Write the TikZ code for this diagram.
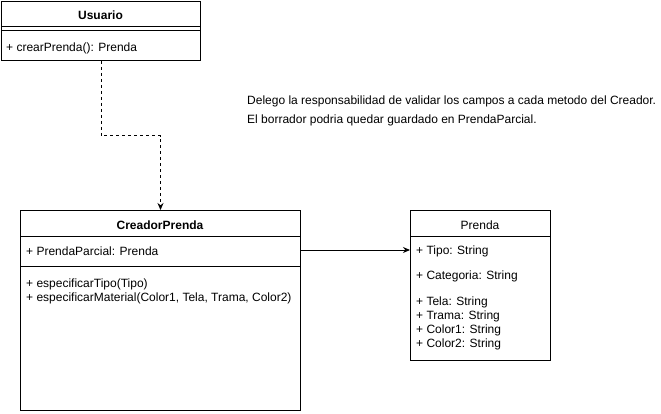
\documentclass[tikz,border=0pt]{standalone}
\usepackage{fontspec}
\setmainfont{Liberation Sans}
\usetikzlibrary{arrows.meta}
\begin{document}
\begin{tikzpicture}[
 x=1pt,y=-1pt,
 line/.style={line width=1pt},
 classbox/.style={draw,line width=1pt,anchor=north west,inner sep=0pt},
 member/.style={anchor=west,inner sep=0pt},
 title/.style={inner sep=0pt,font=\fontsize{12}{14}\selectfont\bfseries},
 every node/.style={font=\fontsize{12}{14}\selectfont}]
 \useasboundingbox (0,0) rectangle (661,414);
 % Usuario class, empty attribute part.
 \node[classbox,minimum width=199,minimum height=59] (usr) at (1,1) {};
 \node[title] (usrname) at (100.5,15) {Usuario};
 \draw[line] (1,27)--(200,27);
 \draw[line] (1,31)--(200,31);
 \node[member] (crear) at (6,48) {+ crearPrenda(): Prenda};
 % CreadorPrenda class.
 \node[classbox,minimum width=280,minimum height=200] (creador) at (20,210) {};
 \node[title] (creadorname) at (160,225) {CreadorPrenda};
 \draw[line] (20,236)--(300,236);
 \draw[line] (20,266)--(300,266);
 \node[member] (parcial) at (26,251) {+ PrendaParcial: Prenda};
 \node[member] (tipo) at (26,284) {+ especificarTipo(Tipo)};
 \node[member] (material) at (26,298) {+ especificarMaterial(Color1, Tela, Trama, Color2)};
 % Prenda class, attributes only.
 \node[classbox,minimum width=140,minimum height=150] (prenda) at (410,210) {};
 \node[inner sep=0pt] (prendaname) at (480,225) {Prenda};
 \draw[line] (410,236)--(550,236);
 \foreach \t/\y [count=\i] in {Tipo/251,Categoria/276,Tela/302,Trama/316,Color1/330,Color2/344}{
  \node[member] (attr\i) at (416,\y) {+ \t: String};
 }
 % Note.
 \node[member] (nota1) at (247,101) {Delego la responsabilidad de validar los campos a cada metodo del Creador.};
 \node[member] (nota2) at (247,120) {El borrador podria quedar guardado en PrendaParcial.};
 % Connectors.
 \draw[line,dash pattern=on 3pt off 3pt,-{Stealth[length=7pt,width=6pt]}] (usr.south)--++(0,75)-|(creador.north);
 \draw[line,-{Stealth[length=7pt,width=6pt]}] (0,250-|creador.east)--(0,250-|prenda.west);
\end{tikzpicture}
\end{document}
